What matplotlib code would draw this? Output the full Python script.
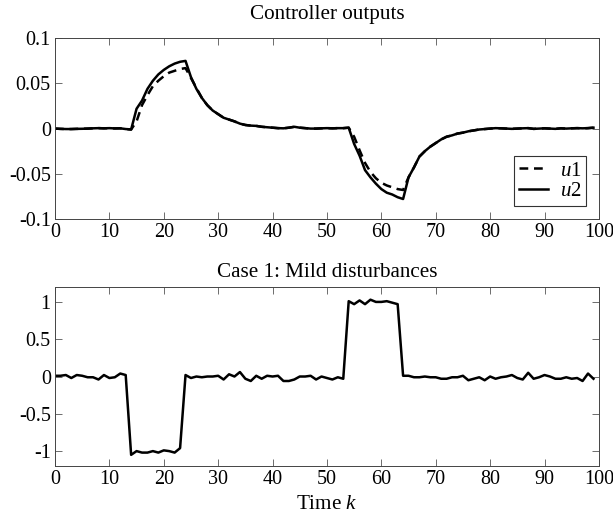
import matplotlib

matplotlib.use("Agg")
import matplotlib.pyplot as plt
import numpy as np

plt.rcParams["font.family"] = ["Liberation Serif", "DejaVu Serif"]
plt.rcParams["mathtext.fontset"] = "custom"
plt.rcParams["mathtext.rm"] = "Liberation Serif"
plt.rcParams["mathtext.it"] = "Liberation Serif:italic"
plt.rcParams["axes.unicode_minus"] = False
plt.rcParams["font.size"] = 14.5

k = np.arange(100)

# controller output u2 (solid)
u2 = [0.0, -0.0003, -0.0005, -0.0005, -0.0003, -0.0002, 0.0, 0.0003, 0.0005, 0.0003,
      0.0005, 0.0002, 0.0003, -0.0005, -0.001, 0.022, 0.031, 0.044, 0.053, 0.060,
      0.065, 0.069, 0.072, 0.074, 0.075, 0.057, 0.044, 0.034, 0.026, 0.020,
      0.016, 0.012, 0.010, 0.008, 0.0055, 0.004, 0.0033, 0.003, 0.002, 0.0015,
      0.001, 0.0005, 0.0003, 0.001, 0.002, 0.001, 0.0005, 0.0, 0.0, 0.0003,
      0.0005, 0.0003, 0.0005, 0.0005, 0.001, -0.017, -0.030, -0.046, -0.054, -0.061,
      -0.067, -0.071, -0.073, -0.076, -0.078, -0.054, -0.043, -0.031, -0.025, -0.020,
      -0.016, -0.012, -0.009, -0.0075, -0.0055, -0.0045, -0.003, -0.002, -0.001, -0.0005,
      0.0, 0.0005, 0.0003, 0.0, -0.0003, 0.0, 0.0003, 0.0005, -0.0003, 0.0,
      0.0003, 0.0, -0.0003, 0.0003, 0.0, 0.0003, 0.0005, 0.0003, 0.0005, 0.001]

# controller output u1 (dashed)
u1 = [0.0, -0.0003, -0.0005, -0.0005, -0.0003, -0.0002, 0.0, 0.0003, 0.0005, 0.0003,
      0.0005, 0.0002, 0.0003, -0.0005, -0.001, 0.008, 0.026, 0.037, 0.047, 0.053,
      0.058, 0.062, 0.064, 0.066, 0.067, 0.056, 0.045, 0.034, 0.026, 0.020,
      0.016, 0.012, 0.010, 0.008, 0.0055, 0.004, 0.0033, 0.003, 0.002, 0.0015,
      0.001, 0.0005, 0.0003, 0.001, 0.002, 0.001, 0.0005, 0.0, 0.0, 0.0003,
      0.0005, 0.0003, 0.0005, 0.0005, 0.001, -0.009, -0.024, -0.038, -0.048, -0.055,
      -0.060, -0.063, -0.065, -0.067, -0.068, -0.054, -0.043, -0.031, -0.025, -0.020,
      -0.016, -0.012, -0.009, -0.0075, -0.0055, -0.0045, -0.003, -0.002, -0.001, -0.0005,
      0.0, 0.0005, 0.0003, 0.0, -0.0003, 0.0, 0.0003, 0.0005, -0.0003, 0.0,
      0.0003, 0.0, -0.0003, 0.0003, 0.0, 0.0003, 0.0005, 0.0003, 0.0005, 0.001]

# disturbance, case 1
dist = [0.01, 0.01, 0.02, -0.02, 0.02, 0.01, -0.01, -0.01, -0.04, 0.02,
        -0.02, -0.01, 0.04, 0.02, -1.05, -1.0, -1.02, -1.02, -1.0, -1.02,
        -0.99, -1.0, -1.02, -0.96, 0.02, -0.02, 0.0, -0.01, 0.0, 0.0,
        0.01, -0.04, 0.03, 0.0, 0.06, -0.03, -0.06, 0.01, -0.03, 0.01,
        0.0, 0.01, -0.06, -0.06, -0.04, 0.0, 0.0, 0.01, -0.04, 0.0,
        -0.02, -0.04, -0.01, -0.03, 1.01, 0.97, 1.02, 0.97, 1.03, 1.0,
        1.0, 1.01, 0.99, 0.97, 0.01, 0.01, -0.01, -0.01, 0.0, -0.01,
        -0.01, -0.03, -0.03, -0.01, -0.01, 0.01, -0.05, -0.03, -0.01, -0.05,
        0.0, -0.03, -0.01, 0.0, 0.02, -0.02, -0.04, 0.05, -0.03, -0.01,
        0.02, 0.0, -0.03, -0.03, -0.01, -0.03, -0.02, -0.06, 0.04, -0.03]

fig = plt.figure(figsize=(6.13, 5.15), dpi=100)
ax1 = fig.add_axes([0.0897, 0.575, 0.8873, 0.3506])
ax2 = fig.add_axes([0.0897, 0.0951, 0.8873, 0.3476])

ax1.plot(k, u1, color="black", lw=1.8, ls=(0, (3.5, 2.3)), label="$u$1")
ax1.plot(k, u2, color="black", lw=1.8, label="$u$2")
ax1.set_xlim(0, 100)
ax1.set_ylim(-0.1, 0.1)
ax1.set_yticks([-0.1, -0.05, 0, 0.05, 0.1])
ax1.set_yticklabels(["-0.1", "-0.05", "0", "0.05", "0.1"])
ax1.set_title("Controller outputs", fontsize=15.2, pad=14)
leg = ax1.legend(loc="lower right", frameon=True, fancybox=False, handlelength=1.4,
                 handletextpad=0.55, borderaxespad=0.6, fontsize=15, labelspacing=0.05,
                 borderpad=0.25)
leg.get_frame().set_edgecolor("black")
leg.get_frame().set_linewidth(0.8)

ax2.plot(k, dist, color="black", lw=1.8)
ax2.set_xlim(0, 100)
ax2.set_ylim(-1.2, 1.2)
ax2.set_yticks([-1, -0.5, 0, 0.5, 1])
ax2.set_yticklabels(["-1", "-0.5", "0", "0.5", "1"])
ax2.set_title("Case 1: Mild disturbances", fontsize=15.2, pad=7)
ax2.set_xlabel("Time $k$", fontsize=15.2)

for ax in (ax1, ax2):
    ax.set_xticks(np.arange(0, 101, 10))
    ax.tick_params(direction="in", top=True, right=True, length=5, width=0.6,
                   color="#555555", labelsize=14.5, pad=3)
    for sp in ax.spines.values():
        sp.set_linewidth(0.7)
        sp.set_color("#444444")

fig.savefig("out.png", dpi=100)
